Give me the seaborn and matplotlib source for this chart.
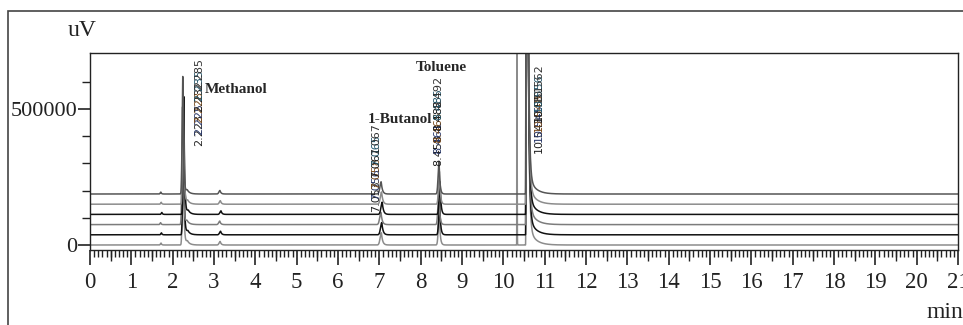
import numpy as np
import pandas as pd
import seaborn as sns
from matplotlib import pyplot as plt
from matplotlib.patches import Rectangle

# six overlaid runs, each drawn on its own baseline offset (uV)
trace_offsets = [0, 37500, 75000, 112500, 150000, 187500]
trace_shifts = [0.0, 0.01, -0.01, 0.02, 0.005, -0.005]   # min
trace_colors = ['#8c8c8c', '#111111', '#7c7c7c', '#111111', '#8c8c8c', '#555555']

# peak table: retention time (min), height (uV), rise sigma, fall tau (min), drifts between runs
peak_rt = [1.72, 2.25, 2.36, 3.15, 7.05, 8.45, 10.55, 10.62]
peak_height = [7000, 433000, 14000, 13000, 45000, 120000, 6000000, 60000]
peak_rise = [0.015, 0.016, 0.03, 0.025, 0.03, 0.022, 0.003, 0.01]
peak_fall = [0.015, 0.02, 0.06, 0.025, 0.03, 0.022, 0.025, 0.15]
peak_drift = [True, True, True, True, True, True, False, False]

# extra early solvent front only seen on the bottom run
front_rt = 10.33
front_height = 6000000

peak_names = ['Methanol', '1-Butanol', 'Toluene']
rt_labels = {
    'methanol': ['2.223', '2.225', '2.228', '2.232', '2.235', '2.285'],
    'butanol': ['7.053', '7.056', '7.058', '7.061', '7.065', '7.067'],
    'toluene': ['8.458', '8.461', '8.465', '8.482', '8.485', '8.492'],
    'solvent': ['10.543', '10.545', '10.548', '10.551', '10.556', '10.562'],
}
label_colors = ['#222222', '#2b3a6b', '#7a4b1c', '#1d1d1d', '#23566b', '#333333']

time = np.arange(0, 21.0005, 0.002)


def peak(t, rt, h, rise, fall):
    y = np.where(t < rt, np.exp(-0.5 * ((t - rt) / rise) ** 2),
                 np.exp(-np.clip(t - rt, 0, None) / fall))
    return h * y


frames = []
for i, (off, sh) in enumerate(zip(trace_offsets, trace_shifts)):
    sig = np.full_like(time, float(off))
    for rt, h, r, f, d in zip(peak_rt, peak_height, peak_rise, peak_fall, peak_drift):
        sig += peak(time, rt + (sh if d else 0.0), h, r, f)
    if i == 0:
        sig += peak(time, front_rt, front_height, 0.002, 0.002)
    frames.append(pd.DataFrame({'time': time, 'signal': sig, 'trace': f'run{i}'}))
df = pd.concat(frames, ignore_index=True)

sns.set_style('white')
plt.rcParams['font.family'] = ['Liberation Serif', 'DejaVu Serif']

fig = plt.figure(figsize=(9.63, 3.25), dpi=100)
ax = fig.add_axes([90 / 963, 75 / 325, 868 / 963, 197 / 325])

sns.lineplot(data=df, x='time', y='signal', hue='trace', palette=trace_colors,
             estimator=None, legend=False, linewidth=1.1, ax=ax)

ax.set_xlim(0, 21)
ax.set_ylim(-18400, 706000)
ax.set_xlabel('')
ax.set_ylabel('')
for s in ax.spines.values():
    s.set_visible(True)
    s.set_color('#222222')
    s.set_linewidth(1.0)

ax.set_xticks(np.arange(0, 22, 1))
ax.set_xticks(np.arange(0, 21.01, 0.1), minor=True)
ax.set_yticks([0, 500000])
ax.set_yticklabels(['0', '500000'])
ax.set_yticks(np.arange(0, 700000, 100000), minor=True)
ax.tick_params(axis='x', which='major', direction='out', length=11, width=1.2,
               labelsize=16.5, pad=5, bottom=True, colors='#222222')
ax.tick_params(axis='x', which='minor', direction='out', length=5, width=1.0,
               bottom=True, color='#222222')
ax.tick_params(axis='y', which='major', direction='out', length=9, width=1.2,
               labelsize=16, pad=0, left=True, colors='#222222')
ax.tick_params(axis='y', which='minor', direction='out', length=6, width=1.0,
               left=True, color='#222222')

sec = ax.secondary_xaxis('bottom')
sec.set_xticks(np.arange(0.5, 21, 1))
sec.tick_params(direction='out', length=8, width=1.0, labelbottom=False, color='#222222')
for s in sec.spines.values():
    s.set_visible(False)

# retention time labels, overlapping as in the instrument printout
def rt_stack(x, y0, labels, step):
    for k, (txt, c) in enumerate(zip(labels, label_colors)):
        ax.text(x, y0 + k * step, txt, rotation=90, fontsize=8, color=c,
                ha='center', va='bottom', fontfamily='DejaVu Sans')

rt_stack(2.65, 365000, rt_labels['methanol'], 41000)
rt_stack(6.93, 122000, rt_labels['butanol'], 42000)
rt_stack(8.42, 292000, rt_labels['toluene'], 42000)
rt_stack(10.85, 340000, rt_labels['solvent'], 37000)

ax.text(2.78, 573000, peak_names[0], fontsize=11, fontweight='bold', ha='left', va='center')
ax.text(8.27, 463000, peak_names[1], fontsize=11, fontweight='bold', ha='right', va='center')
ax.text(8.49, 654000, peak_names[2], fontsize=11, fontweight='bold', ha='center', va='center')

fig.text(82 / 963, 1 - 31 / 325, 'uV', fontsize=17, ha='center', va='center', color='#222222')
fig.text(945 / 963, 1 - 312 / 325, 'min', fontsize=17, ha='center', va='center', color='#222222')

fig.patches.append(Rectangle((8 / 963, -0.1), 1.2, 1 - 11 / 325 + 0.1, transform=fig.transFigure,
                             fill=False, edgecolor='#444444', linewidth=1.2))

fig.savefig('out.png', dpi=100)
